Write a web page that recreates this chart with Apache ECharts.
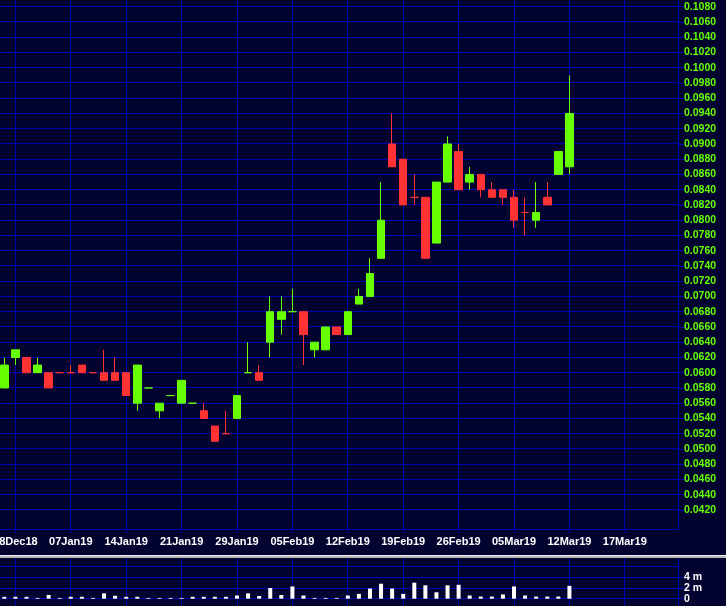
<!DOCTYPE html>
<html><head><meta charset="utf-8">
<script src="https://cdn.jsdelivr.net/npm/echarts@6/dist/echarts.min.js"></script>
<style>html,body{margin:0;padding:0;background:#030330;}#c{width:726px;height:606px;}</style>
</head><body><div id="c"></div>
<script>
// ---- data ----
const dates = ['27Dec18','28Dec18','31Dec18','02Jan19','03Jan19','04Jan19','07Jan19','08Jan19','09Jan19','10Jan19',
  '11Jan19','14Jan19','15Jan19','16Jan19','17Jan19','18Jan19','21Jan19','22Jan19','23Jan19','24Jan19',
  '25Jan19','29Jan19','30Jan19','31Jan19','01Feb19','04Feb19','05Feb19','06Feb19','07Feb19','08Feb19',
  '11Feb19','12Feb19','13Feb19','14Feb19','15Feb19','18Feb19','19Feb19','20Feb19','21Feb19','22Feb19',
  '25Feb19','26Feb19','27Feb19','28Feb19','01Mar19','04Mar19','05Mar19','06Mar19','07Mar19','08Mar19',
  '11Mar19','12Mar19'];
const openP  = [0.058,0.062,0.062,0.060,0.060,0.060,0.060,0.061,0.060,0.060,
  0.060,0.060,0.056,0.058,0.055,0.057,0.056,0.056,0.055,0.053,
  0.052,0.054,0.060,0.060,0.064,0.067,0.068,0.068,0.063,0.063,
  0.066,0.065,0.069,0.070,0.075,0.090,0.088,0.083,0.083,0.077,
  0.085,0.089,0.085,0.086,0.084,0.084,0.083,0.081,0.080,0.083,
  0.086,0.087];
const closeP = [0.061,0.063,0.060,0.061,0.058,0.060,0.060,0.060,0.060,0.059,
  0.059,0.057,0.061,0.058,0.056,0.057,0.059,0.056,0.054,0.051,
  0.052,0.057,0.060,0.059,0.068,0.068,0.068,0.065,0.064,0.066,
  0.065,0.068,0.070,0.073,0.080,0.087,0.082,0.083,0.075,0.085,
  0.090,0.084,0.086,0.084,0.083,0.083,0.080,0.081,0.081,0.082,
  0.089,0.094];
const lowP   = [0.058,0.061,0.060,0.060,0.058,0.060,0.060,0.060,0.060,0.059,
  0.059,0.057,0.055,0.058,0.054,0.057,0.056,0.056,0.054,0.051,
  0.052,0.054,0.060,0.059,0.062,0.065,0.068,0.061,0.062,0.063,
  0.065,0.065,0.069,0.070,0.075,0.087,0.082,0.082,0.075,0.077,
  0.085,0.084,0.084,0.083,0.083,0.082,0.079,0.078,0.079,0.082,
  0.086,0.086];
const highP  = [0.062,0.063,0.062,0.062,0.060,0.060,0.061,0.061,0.060,0.063,
  0.062,0.060,0.061,0.058,0.056,0.057,0.059,0.056,0.056,0.053,
  0.055,0.057,0.064,0.061,0.070,0.070,0.071,0.068,0.064,0.066,
  0.066,0.068,0.071,0.075,0.085,0.094,0.088,0.086,0.083,0.085,
  0.091,0.090,0.087,0.086,0.085,0.084,0.084,0.083,0.085,0.085,
  0.089,0.099];
const volume = [0.35,0.35,0.35,0.15,0.7,0.15,0.35,0.35,0.15,1.0,
  0.55,0.35,0.35,0.15,0.15,0.15,0.15,0.35,0.35,0.35,
  0.35,0.6,1.0,0.5,2.0,0.7,2.3,0.6,0.15,0.15,
  0.15,0.6,0.9,1.9,2.8,1.9,0.9,3.0,2.5,1.2,
  2.5,2.6,0.6,0.4,0.4,0.8,2.3,0.6,0.4,0.4,
  0.4,2.4].map(v => v * 1e6);
const greenDoji = [13,15,17,22,26];
const xTickLabels = ['28Dec18','07Jan19','14Jan19','21Jan19','29Jan19','05Feb19','12Feb19','19Feb19','26Feb19','05Mar19','12Mar19','17Mar19'];
const xTickSlots = [1,6,11,16,21,26,31,36,41,46,51,56];
const yTickLabels = ['0.0420','0.0440','0.0460','0.0480','0.0500','0.0520','0.0540','0.0560','0.0580','0.0600',
  '0.0620','0.0640','0.0660','0.0680','0.0700','0.0720','0.0740','0.0760','0.0780','0.0800',
  '0.0820','0.0840','0.0860','0.0880','0.0900','0.0920','0.0940','0.0960','0.0980','0.1000',
  '0.1020','0.1040','0.1060','0.1080'];
const volTickLabelsA = ['0','4 m'];
const volTickValuesA = [0, 4e6];
const volTickLabelsB = ['2 m'];
const volTickValuesB = [2e6];
const volGridValues = [0, 2e6, 4e6, 6e6];

// ---- chart ----
const UP = '#66ff00', DOWN = '#ff3333', BLUE = '#0000b4', BG = '#030330';
const FONT = '"Liberation Sans", Arial, sans-serif';
const yTickValues = yTickLabels.map(Number);
const candleData = dates.map((d, i) => {
  const item = { value: [i, openP[i], closeP[i], lowP[i], highP[i]] };
  if (openP[i] === closeP[i]) {
    const c = greenDoji.includes(i) ? UP : DOWN;
    item.itemStyle = { color: c, color0: c, borderColor: c, borderColor0: c, borderColorDoji: c };
  }
  return item;
});
const volData = volume.map((v, i) => [i, v]);
const xMin = -0.39, xMax = 60.8;
const pMin = 0.0395, pMax = 0.10888;
const vMin = -1.364e6, vMax = 7.61e6;

// crisp grid lines drawn through the axes' scales
function gridLines(xi, yi, values, vertical, yBase) {
  return {
    type: 'custom', xAxisIndex: xi, yAxisIndex: yi, silent: true, z: 0, clip: false,
    data: values.map(v => vertical ? [v, yBase] : [xMin, v]),
    renderItem: (params, api) => {
      const cs = params.coordSys;
      const p = api.coord([api.value(0), api.value(1)]);
      if (vertical) {
        const x = Math.floor(p[0]) + 0.5;
        return { type: 'line', shape: { x1: x, y1: cs.y, x2: x, y2: cs.y + cs.height },
          style: { stroke: BLUE, lineWidth: 1 } };
      }
      const y = Math.floor(p[1]) + 0.5;
      return { type: 'line', shape: { x1: cs.x, y1: y, x2: cs.x + cs.width, y2: y },
        style: { stroke: BLUE, lineWidth: 1 } };
    }
  };
}

const chart = echarts.init(document.getElementById('c'));
chart.setOption({
  backgroundColor: BG,
  animation: false,
  grid: [
    { left: 0, right: 48, top: 0, bottom: 77, containLabel: false, outerBoundsMode: 'none' },
    { left: 0, right: 48, top: 558, bottom: 0, containLabel: false, outerBoundsMode: 'none' }
  ],
  xAxis: [
    { type: 'value', gridIndex: 0, min: xMin, max: xMax, position: 'bottom',
      axisLine: { show: true, onZero: false, lineStyle: { color: BLUE } },
      axisTick: { show: true, length: 4, customValues: xTickSlots, lineStyle: { color: BLUE } },
      axisLabel: { customValues: xTickSlots, margin: 7, hideOverlap: false,
        formatter: v => { const k = xTickSlots.indexOf(Math.round(v)); return k >= 0 ? xTickLabels[k] : ''; },
        color: '#ffffff', fontWeight: 'bold', fontSize: 11, fontFamily: FONT },
      splitLine: { show: false } },
    { type: 'value', gridIndex: 1, min: xMin, max: xMax,
      axisLine: { show: false, onZero: false }, axisTick: { show: false },
      axisLabel: { show: false }, splitLine: { show: false } }
  ],
  yAxis: [
    { type: 'value', gridIndex: 0, position: 'right', min: pMin, max: pMax,
      axisLine: { show: true, onZero: false, lineStyle: { color: BLUE } },
      axisTick: { show: true, length: 6, customValues: yTickValues, lineStyle: { color: BLUE } },
      axisLabel: { customValues: yTickValues, margin: 6, hideOverlap: false,
        formatter: v => { const k = yTickValues.findIndex(t => Math.abs(t - v) < 1e-7); return k >= 0 ? yTickLabels[k] : ''; },
        color: UP, fontWeight: 'bold', fontSize: 10.5, fontFamily: FONT },
      splitLine: { show: false } },
    { type: 'value', gridIndex: 1, position: 'right', min: vMin, max: vMax,
      axisLine: { show: true, onZero: false, lineStyle: { color: BLUE } },
      axisTick: { show: true, length: 6, customValues: volTickValuesA, lineStyle: { color: BLUE } },
      axisLabel: { customValues: volTickValuesA, margin: 6, hideOverlap: false,
        formatter: v => { const k = volTickValuesA.findIndex(t => Math.abs(t - v) < 1); return k >= 0 ? volTickLabelsA[k] : ''; },
        color: '#ffffff', fontWeight: 'bold', fontSize: 10.5, fontFamily: FONT },
      splitLine: { show: false } },
    { type: 'value', gridIndex: 1, position: 'right', offset: 0, min: vMin, max: vMax,
      axisLine: { show: false, onZero: false },
      axisTick: { show: true, length: 6, customValues: volTickValuesB, lineStyle: { color: BLUE } },
      axisLabel: { customValues: volTickValuesB, margin: 6, hideOverlap: false,
        formatter: v => volTickLabelsB[0],
        color: '#ffffff', fontWeight: 'bold', fontSize: 10.5, fontFamily: FONT },
      splitLine: { show: false } }
  ],
  series: [
    gridLines(0, 0, xTickSlots, true, pMin),
    gridLines(0, 0, yTickValues, false),
    gridLines(1, 1, xTickSlots, true, 0),
    gridLines(1, 1, volGridValues, false),
    { type: 'candlestick', xAxisIndex: 0, yAxisIndex: 0, data: candleData, barWidth: 8, z: 5,
      itemStyle: { color: UP, color0: DOWN, borderColor: UP, borderColor0: DOWN, borderWidth: 1 } },
    { type: 'bar', xAxisIndex: 1, yAxisIndex: 1, data: volData, barWidth: 4, z: 5,
      itemStyle: { color: '#ffffff' } }
  ],
  graphic: [
    { type: 'rect', left: 0, top: 555, shape: { width: 726, height: 1 }, style: { fill: '#f0f0f0' }, z: 100 },
    { type: 'rect', left: 0, top: 556, shape: { width: 726, height: 2 }, style: { fill: '#b8b8b8' }, z: 100 }
  ]
});
</script></body></html>
